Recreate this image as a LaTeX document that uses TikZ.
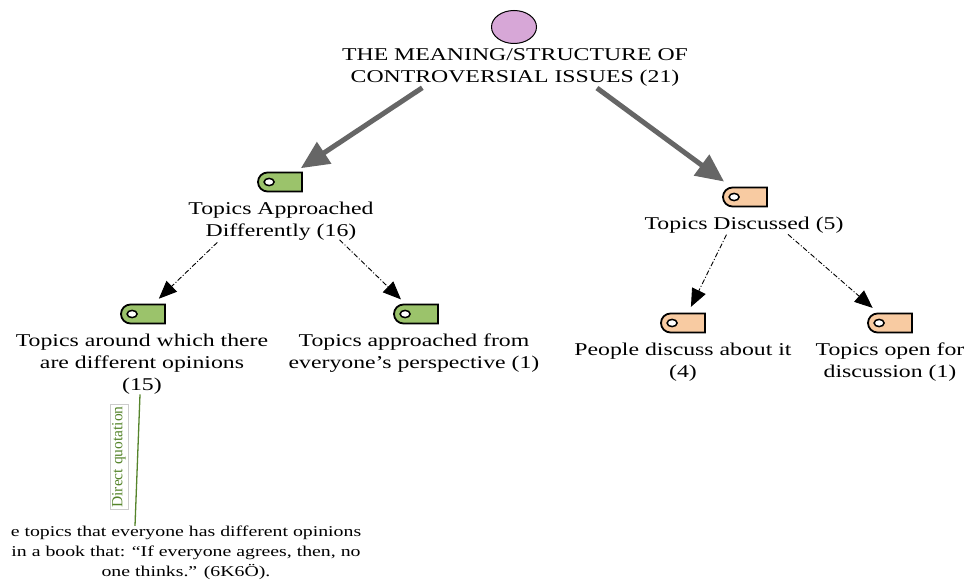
\documentclass[tikz,border=0pt]{standalone}
\usepackage{fontspec}
\setmainfont{Liberation Serif}[FakeStretch=1.32]
\newfontfamily\plainserif{Liberation Serif}
\usepackage{tikz}
\usetikzlibrary{arrows.meta,shapes.geometric,shapes.misc}

\definecolor{rootPink}{HTML}{D7A7D7}
\definecolor{tagGreen}{HTML}{9BC36B}
\definecolor{tagPeach}{HTML}{F8CBA2}
\definecolor{linkGray}{HTML}{666666}
\definecolor{quoteGreen}{HTML}{55842B}

\tikzset{
  codetext/.style={font=\fontsize{18}{22}\selectfont, align=center, inner sep=0pt},
  tagbox/.style={rounded rectangle, rounded rectangle right arc=none, draw, line width=1.8pt,
    minimum width=44pt, minimum height=19pt, inner sep=0pt},
  bigarrow/.style={draw=linkGray, line width=5pt, -{Triangle[length=28pt,width=25pt]}},
  linkarrow/.style={line width=0.9pt, dash pattern=on 5pt off 2pt on 1pt off 2pt,
    -{Triangle[length=18pt,width=15pt]}},
}

\begin{document}
\begin{tikzpicture}[x=1pt,y=-1pt]
  \useasboundingbox (0,0) rectangle (974,580);

  % root
  \node[ellipse, draw, line width=1pt, fill=rootPink, minimum width=45pt, minimum height=33pt, inner sep=0pt] (rootdot) at (514,27) {};
  \node[codetext] (root) at (515,67) {THE MEANING/STRUCTURE OF\\CONTROVERSIAL ISSUES (21)};

  % tags
  \foreach \n/\x/\y/\c in {tagA/280/182/tagGreen, tagB/745/197/tagPeach,
      tagAa/143/314/tagGreen, tagAb/416/314/tagGreen,
      tagBa/683/323/tagPeach, tagBb/890/323/tagPeach} {
    \node[tagbox, fill=\c] (\n) at (\x,\y) {};
    \filldraw[fill=white, line width=1.5pt] ([xshift=12pt]\n.west) ellipse [x radius=5pt, y radius=3.6pt];
  }

  % labels
  \node[codetext] (txtA) at (281,221) {Topics Approached\\Differently (16)};
  \node[codetext] (txtB) at (744,225) {Topics Discussed (5)};
  \node[codetext] (txtAa) at (142,364) {Topics around which there\\are different opinions\\(15)};
  \node[codetext] (txtAb) at (414,353) {Topics approached from\\everyone’s perspective (1)};
  \node[codetext] (txtBa) at (683,362) {People discuss about it\\(4)};
  \node[codetext] (txtBb) at (890,362) {Topics open for\\discussion (1)};

  % links
  \draw[bigarrow, shorten <=110pt, shorten >=25pt] (rootdot.center) -- (tagA.center);
  \draw[bigarrow, shorten <=103pt, shorten >=26pt] (rootdot.center) -- (tagB.center);
  \draw[linkarrow, shorten <=87pt, shorten >=22pt] (tagA.center) -- (tagAa.center);
  \draw[linkarrow, shorten <=83pt, shorten >=21pt] (tagA.center) -- (tagAb.center);
  \draw[linkarrow, shorten <=42pt, shorten >=18pt] (tagB.center) -- (tagBa.center);
  \draw[linkarrow, shorten <=57pt, shorten >=23pt] (tagB.center) -- (tagBb.center);

  % quotation
  \node[codetext, font=\fontsize{15}{20}\selectfont] (quote) at (186,553)
    {e topics that everyone has different opinions\\ in a book that: “If everyone agrees, then, no\\one thinks.” (6K6Ö).};
  \draw[quoteGreen, line width=1.3pt] ([xshift=-2pt]txtAa.south) -- ([xshift=-51pt]quote.north);
  \node[draw=gray!40, line width=0.5pt, rotate=90, text=quoteGreen, inner sep=2pt,
    font=\plainserif\fontsize{15.5}{18}\selectfont] (quotelabel) at (119,457) {Direct quotation};
\end{tikzpicture}
\end{document}
